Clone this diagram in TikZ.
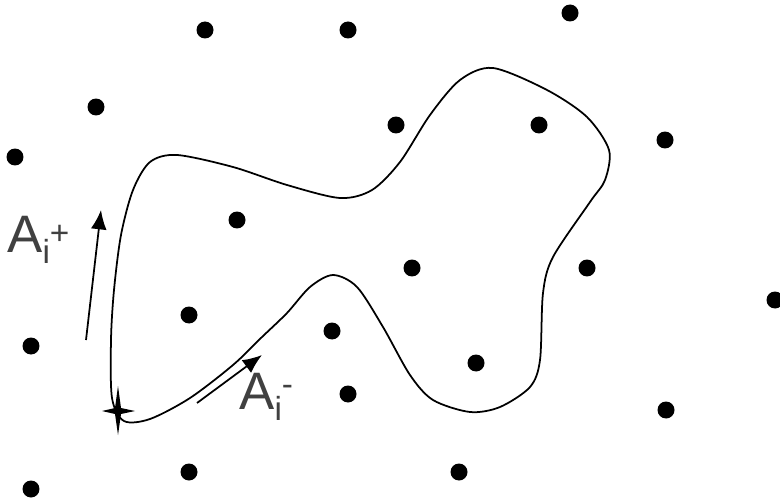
\documentclass[tikz,border=0pt]{standalone}
\usepackage{fontspec}
\setmainfont{Liberation Sans}
\usepackage{xcolor}
\usepackage{tikz}
\usetikzlibrary{arrows.meta,calc}
\definecolor{lblgray}{RGB}{64,64,64}

\begin{document}
\begin{tikzpicture}[x=0.02cm,y=-0.02cm,>={Latex[length=11pt,width=9pt]},
  pt/.style={circle,fill,inner sep=0pt,minimum size=0.34cm},
  lbl/.style={anchor=base west,inner sep=0pt,text=lblgray,font=\fontsize{30}{34}\selectfont}]
\useasboundingbox (0,0) rectangle (780,503);
% points
\foreach \x/\y [count=\i] in {205/30,348/30,570/13,96/107,15/157,396/125,539/125,665/140,
  237/220,412/268,587/268,775/300,189/315,332/331,31/346,476/363,348/394,666/410,
  189/472,459/472,31/489}
  \node[pt] (p\i) at (\x,\y) {};
% region boundary
\draw[line width=1pt] plot[smooth cycle,tension=0.5] coordinates {
  (112,398) (111,340) (114,290) (121,235) (133,190) (150,162) (177,155) (233,167)
  (287,185) (340,198) (372,190) (400,162) (430,115) (460,80) (493,68) (547,90)
  (587,117) (609,150) (605,180) (590,202) (553,257) (543,293) (540,360) (530,387)
  (500,407) (470,412) (433,400) (410,375) (383,327) (357,287) (333,275) (310,287)
  (287,313) (262,337) (233,365) (190,398) (150,419) (124,421)};
% start point
\coordinate (st) at (118,411);
\fill (st) ++(0,-25) -- ++(3,22) -- ++(14,3) -- ++(-14,3) -- ++(-3,21)
  -- ++(-3,-21) -- ++(-13,-3) -- ++(13,-3) -- cycle;
% directions
\coordinate (ap0) at (86,340);
\coordinate (ap1) at (101,210);
\coordinate (am0) at (197,403);
\coordinate (am1) at (262,355);
\draw[->,line width=1pt] (ap0) -- (ap1);
\draw[->,line width=1pt] (am0) -- (am1);
\node[lbl] (lp) at (7,252) {A\raisebox{-0.22em}{\fontsize{19}{19}\selectfont i}\raisebox{0.15em}{\fontsize{19}{19}\selectfont +}};
\node[lbl] (lm) at (239,409) {A\raisebox{-0.22em}{\fontsize{19}{19}\selectfont i}\raisebox{0.26em}{\fontsize{19}{19}\selectfont -}};
\end{tikzpicture}
\end{document}
